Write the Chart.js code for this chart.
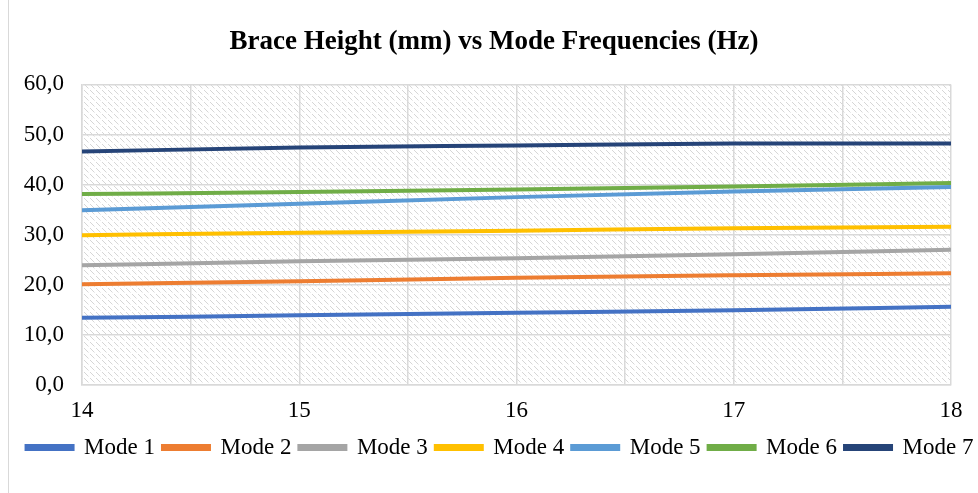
<!DOCTYPE html>
<html>
<head>
<meta charset="utf-8">
<script src="https://cdn.jsdelivr.net/npm/chart.js@4/dist/chart.umd.min.js"></script>
<style>
html,body{margin:0;padding:0;background:#fff;}
#wrap{position:relative;width:978px;height:493px;}
</style>
</head>
<body>
<div id="wrap"><canvas id="c" width="978" height="493"></canvas></div>
<script>
const braceHeights = [14, 15, 16, 17, 18];
const seriesNames = ["Mode 1", "Mode 2", "Mode 3", "Mode 4", "Mode 5", "Mode 6", "Mode 7"];
const mode1 = [13.4, 13.9, 14.4, 14.9, 15.6];
const mode2 = [20.1, 20.7, 21.4, 21.9, 22.3];
const mode3 = [23.9, 24.7, 25.3, 26.1, 27.0];
const mode4 = [29.9, 30.4, 30.8, 31.3, 31.6];
const mode5 = [34.9, 36.2, 37.5, 38.6, 39.5];
const mode6 = [38.1, 38.5, 39.0, 39.6, 40.3];
const mode7 = [46.6, 47.4, 47.8, 48.2, 48.2];
const seriesColors = ["#4472C4", "#ED7D31", "#A5A5A5", "#FFC000", "#5B9BD5", "#70AD47", "#264478"];
const allSeries = [mode1, mode2, mode3, mode4, mode5, mode6, mode7];

function makePattern(ctx){
  const t = document.createElement('canvas');
  t.width = 6; t.height = 6;
  const c = t.getContext('2d');
  c.fillStyle = '#ffffff';
  c.fillRect(0,0,6,6);
  c.fillStyle = '#d6d6d6';
  for (let i = 0; i < 4; i++) c.fillRect(i, i, 1, 1);
  c.fillStyle = '#ebebeb';
  c.fillRect(4,4,1,1);
  return ctx.createPattern(t, 'repeat');
}

const bgPlugin = {
  id: 'bg',
  afterLayout(chart){
    if (chart.legend) { chart.legend.left += 6; chart.legend.right += 6; }
  },
  beforeDraw(chart){
    const ctx = chart.ctx, a = chart.chartArea;
    ctx.save();
    ctx.fillStyle = '#fff';
    ctx.fillRect(0,0,chart.width,chart.height);
    ctx.strokeStyle = '#d9d9d9';
    ctx.lineWidth = 1;
    ctx.strokeRect(8.5, -1, chart.width + 5, chart.height + 5);
    ctx.fillStyle = makePattern(ctx);
    ctx.fillRect(a.left, a.top, a.right - a.left, a.bottom - a.top);
    ctx.restore();
  }
};

const datasets = seriesNames.map((name, i) => ({
  label: name,
  data: braceHeights.map((x, j) => ({x: x, y: allSeries[i][j]})),
  borderColor: seriesColors[i],
  backgroundColor: seriesColors[i],
  borderWidth: 4,
  pointRadius: 0,
  tension: 0.3,
  cubicInterpolationMode: 'monotone',
  fill: false
}));

const serif = "'Liberation Serif', 'Times New Roman', serif";

new Chart(document.getElementById('c'), {
  type: 'line',
  data: { datasets },
  plugins: [bgPlugin],
  options: {
    responsive: false,
    animation: false,
    layout: { padding: { left: 10, right: 0, top: 0, bottom: 24 } },
    plugins: {
      title: {
        display: true,
        text: 'Brace Height (mm) vs Mode Frequencies (Hz)',
        color: '#000',
        font: { family: serif, size: 27, weight: 'bold' },
        padding: { top: 26, bottom: 26 }
      },
      legend: {
        position: 'bottom',
        labels: {
          color: '#000',
          font: { family: serif, size: 23 },
          boxWidth: 46,
          boxHeight: 3,
          padding: 8
        }
      },
      tooltip: { enabled: false }
    },
    scales: {
      x: {
        type: 'linear',
        min: 14, max: 18,
        ticks: {
          stepSize: 0.5,
          autoSkip: false,
          maxRotation: 0,
          color: '#000',
          padding: 12,
          font: { family: serif, size: 23 },
          callback: v => Number.isInteger(v) ? String(v) : ''
        },
        grid: { color: '#d9d9d9', lineWidth: 1.5, drawTicks: false },
        border: { color: '#d9d9d9', width: 1.5 },
        afterFit: s => { s.height = 43; }
      },
      y: {
        min: 0, max: 60,
        ticks: {
          stepSize: 10,
          color: '#000',
          padding: 18,
          font: { family: serif, size: 23 },
          callback: v => v.toFixed(1).replace('.', ',')
        },
        grid: { color: '#d9d9d9', lineWidth: 1.5, drawTicks: false },
        border: { color: '#d9d9d9', width: 1.5 },
        afterFit: s => { s.width = 72; }
      },
      yRight: {
        position: 'right',
        display: true,
        min: 0, max: 60,
        grid: { display: false, drawTicks: false },
        border: { display: false },
        ticks: { display: false },
        afterFit: s => { s.width = 27; }
      }
    }
  }
});
</script>
</body>
</html>
